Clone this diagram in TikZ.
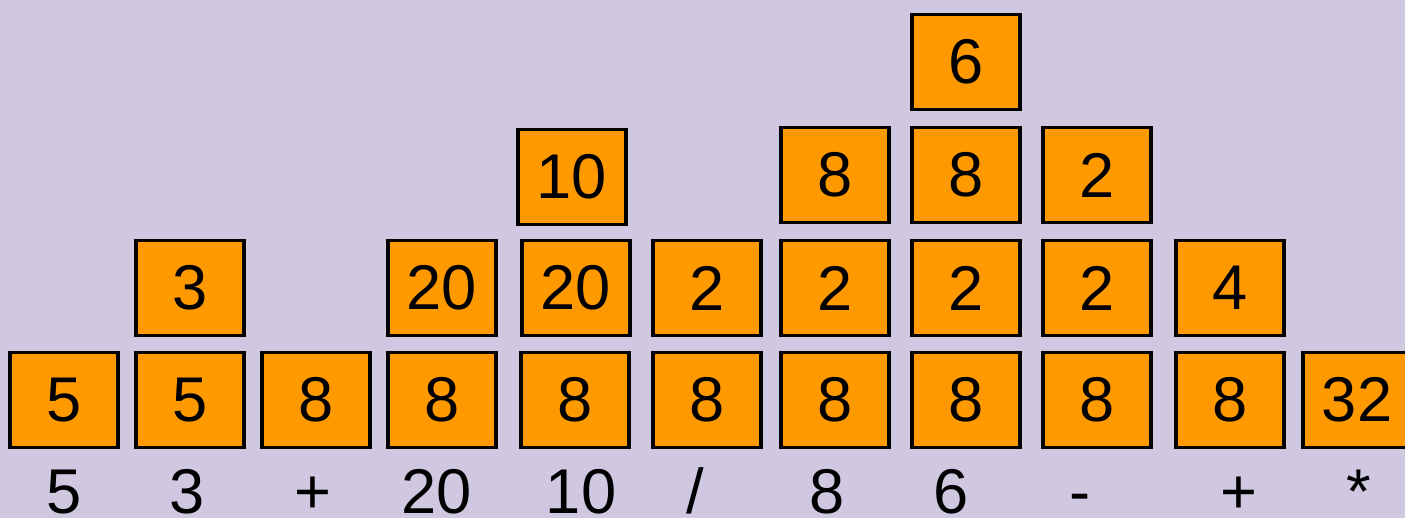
\documentclass[tikz,border=0pt]{standalone}
\usepackage{fontspec}
\setmainfont{Liberation Sans}
\usepackage{tikz}
\definecolor{stackbg}{RGB}{208,200,225}
\definecolor{cellorange}{RGB}{255,153,0}
\tikzset{
  cell/.style={rectangle, draw=black, fill=cellorange, line width=1.9pt,
    minimum width=2.16cm, minimum height=1.90cm, inner sep=0pt,
    font=\fontsize{36}{40}\selectfont},
  token/.style={anchor=base, inner sep=0pt, font=\fontsize{36}{40}\selectfont}
}

\begin{document}
\begin{tikzpicture}[x=0.02cm, y=-0.02cm]
  % --- Background ---
  \useasboundingbox (0,0) rectangle (1405,518);
  \fill[stackbg] (0,0) rectangle (1405,518);

  % --- Stack states, bottom cell first ---
  \node[cell] (c1a) at (64,400) {5};

  \node[cell] (c2a) at (190,400) {5};
  \node[cell] (c2b) at (190,288) {3};

  \node[cell] (c3a) at (316,400) {8};

  \node[cell] (c4a) at (442,400) {8};
  \node[cell] (c4b) at (442,288) {20};

  \node[cell] (c5a) at (575,400) {8};
  \node[cell] (c5b) at (576,288) {20};
  \node[cell] (c5c) at (572,177) {10};

  \node[cell] (c6a) at (707,400) {8};
  \node[cell] (c6b) at (707,288) {2};

  \node[cell] (c7a) at (835,400) {8};
  \node[cell] (c7b) at (835,288) {2};
  \node[cell] (c7c) at (835,175) {8};

  \node[cell] (c8a) at (966,400) {8};
  \node[cell] (c8b) at (966,288) {2};
  \node[cell] (c8c) at (966,175) {8};
  \node[cell] (c8d) at (966,62) {6};

  \node[cell] (c9a) at (1097,400) {8};
  \node[cell] (c9b) at (1097,288) {2};
  \node[cell] (c9c) at (1097,175) {2};

  \node[cell] (c10a) at (1230,400) {8};
  \node[cell] (c10b) at (1230,288) {4};

  \node[cell] (c11a) at (1357,400) {32};

  % --- Input tokens ---
  \node[token] (t1) at (64,513) {5};
  \node[token] (t2) at (187,513) {3};
  \node[token] (t3) at (313,513) {+};
  \node[token] (t4) at (437,513) {20};
  \node[token] (t5) at (581,513) {10};
  \node[token] (t6) at (695,513) {/};
  \node[token] (t7) at (827,513) {8};
  \node[token] (t8) at (951,513) {6};
  \node[token] (t9) at (1080,513) {-};
  \node[token] (t10) at (1239,513) {+};
  \node[token] (t11) at (1359,513) {*};
\end{tikzpicture}
\end{document}
